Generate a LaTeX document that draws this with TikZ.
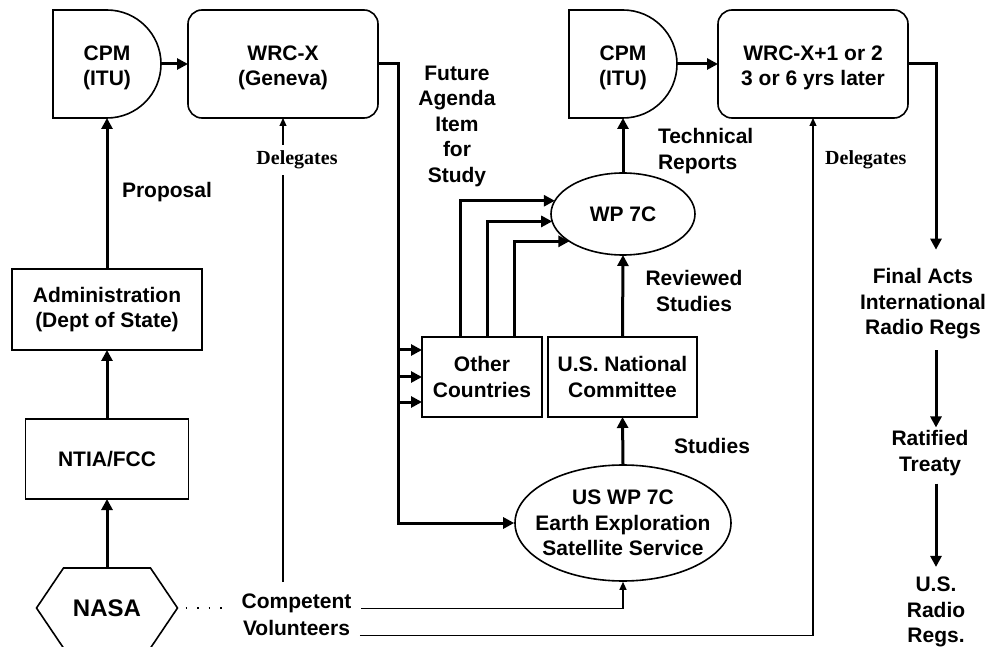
\documentclass[tikz,border=0pt]{standalone}
\usepackage{fontspec}
\setmainfont{Liberation Sans}
\newfontfamily\delfont{Liberation Serif}
\usetikzlibrary{arrows.meta,shapes.geometric}
\newcommand\tstrutx{\rule{0pt}{22pt}}
\begin{document}
\begin{tikzpicture}[x=1pt,y=-1pt,
  lbl/.style={font=\fontsize{21}{25.5}\selectfont\bfseries, align=center, inner sep=0pt, outer sep=0pt},
  box/.style={lbl, draw, line width=1.6pt, rectangle},
  rbox/.style={box, rounded corners=14pt},
  dlg/.style={font=\fontsize{20}{24}\selectfont\delfont\bfseries, inner xsep=0pt, inner ysep=6pt},
  thk/.style={line width=3pt, -{Triangle[length=11pt,width=11pt]}},
  thn/.style={line width=1.2pt, -{Triangle[length=8pt,width=7pt]}},
  outl/.style={line width=1.6pt}]
\useasboundingbox (0,0) rectangle (989,647);
\clip (0,0) rectangle (989,647);

% top row
\node[lbl, minimum width=108pt, minimum height=108pt] (cpm1) at (107,64) {\tstrutx CPM\\(ITU)};
\draw[outl] (cpm1.north west) -- ++(54pt,0pt) arc[start angle=90,end angle=-90,radius=54pt] -- (cpm1.south west) -- cycle;
\node[rbox, minimum width=190pt, minimum height=108pt] (wrcx) at (283,64) {\tstrutx WRC-X\\(Geneva)};
\node[lbl, minimum width=108pt, minimum height=108pt] (cpm2) at (623,64) {\tstrutx CPM\\(ITU)};
\draw[outl] (cpm2.north west) -- ++(54pt,0pt) arc[start angle=90,end angle=-90,radius=54pt] -- (cpm2.south west) -- cycle;
\node[rbox, minimum width=190pt, minimum height=108pt] (wrc2) at (813,64) {\tstrutx WRC-X+1 or 2\\3 or 6 yrs later};

% left column
\node[box, minimum width=190pt, minimum height=81pt] (admin) at (107,309.5) {Administration\\(Dept of State)};
\node[box, minimum width=163pt, minimum height=80pt] (ntia) at (107,459) {NTIA/FCC};
\node[lbl, font=\fontsize{24}{28}\selectfont\bfseries, minimum width=141pt, minimum height=80pt] (nasa) at (107,608) {NASA};
\draw[outl] (nasa.west) -- ([xshift=27pt]nasa.north west) -- ([xshift=-27pt]nasa.north east) -- (nasa.east) -- ([xshift=-27pt]nasa.south east) -- ([xshift=27pt]nasa.south west) -- cycle;

% middle
\node[box, minimum width=120pt, minimum height=80pt] (oc) at (482,377) {Other\\Countries};
\node[box, minimum width=149pt, minimum height=80pt] (nc) at (622.5,377) {U.S. National\\Committee};
\node[lbl, draw, ellipse, line width=1.6pt, minimum width=144pt, minimum height=82pt] (wp) at (623,214) {WP 7C};
\node[draw, ellipse, line width=1.6pt, inner sep=0pt, minimum width=216pt, minimum height=116pt] (uswp) at (623,523) {};
\node[lbl] (uswpt) at (623,523) {US WP 7C\\Earth Exploration\\Satellite Service};

% labels
\node[lbl, anchor=west] (prop) at (122,192) {Proposal};
\node[lbl] (fut) at (457,126) {Future\\Agenda\\Item\\for\\Study};
\node[lbl, anchor=west, align=left] (tech) at (658,151) {Technical\\Reports};
\node[lbl] (rev) at (694,291) {Reviewed\\Studies};
\node[lbl] (stud) at (712,446) {Studies};
\node[lbl] (fa) at (923,304) {Final Acts\\International\\Radio Regs};
\node[lbl] (rt) at (930,453) {Ratified\\Treaty};
\node[lbl] (usr) at (936,612) {U.S.\\Radio\\Regs.};
\node[lbl] (comp) at (296.5,603) {Competent};
\node[lbl] (vol) at (296.5,628) {Volunteers};
\node[dlg, anchor=west] (del2) at (825,160) {Delegates};

\coordinate (trunk) at (398,523);
\coordinate (col) at (936,64);
\coordinate (del1end) at (283,582);

% thick connectors
\draw[thk] (cpm1.east) -- (wrcx.west);
\draw[thk] (cpm2.east) -- (wrc2.west);
\draw[thk] (admin.north) -- (cpm1.south);
\draw[thk] (ntia.north) -- (admin.south);
\draw[thk] (nasa.north) -- (ntia.south);
\draw[thk] (wrcx.east) -| (trunk) -- (uswp.west);
\draw[thk] ([yshift=27pt]oc.west -| trunk) -- ([yshift=27pt]oc.west);
\draw[thk] (oc.west -| trunk) -- (oc.west);
\draw[thk] ([yshift=-25pt]oc.west -| trunk) -- ([yshift=-25pt]oc.west);
\draw[thk] ([xshift=-22pt]oc.north) |- (wp.169);
\draw[thk] ([xshift=5pt]oc.north) |- (wp.186);
\draw[thk] ([xshift=32pt]oc.north) |- (wp.207);
\draw[thk] (wp.north) -- (cpm2.south);
\draw[thk] (nc.north) -- (wp.south);
\draw[thk] (uswp.north) -- (nc.south);
\draw[thk, shorten >=19pt] (wrc2.east) -| (fa.north -| col);
\draw[thk, shorten <=11pt, shorten >=3pt] (fa.south -| col) -- (rt.north -| col);
\draw[thk, shorten <=8pt, shorten >=10pt] (rt.south -| col) -- (usr.north -| col);

% thin connectors
\draw[thn] (del1end) -- (wrcx.south);
\node[dlg, fill=white] (del1) at (297,160) {Delegates};
\draw[thn] ([xshift=10pt]comp.base east) -| (uswp.south);
\draw[thn] ([xshift=10pt]vol.base east) -| (wrc2.south);
\draw[line width=1.5pt, dash pattern=on 1.5pt off 10pt] ([xshift=8pt]nasa.east) -- ([xshift=-16pt]comp.west |- nasa.east);
\end{tikzpicture}
\end{document}
